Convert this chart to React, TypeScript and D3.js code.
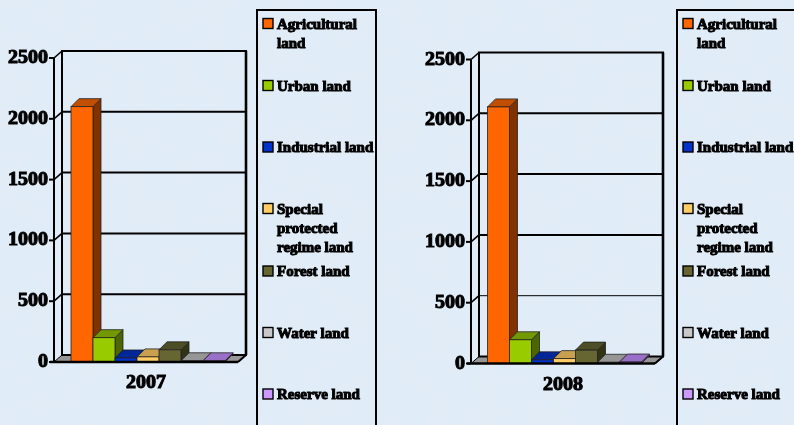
import React from "react";
import * as d3 from "d3";

const categories = ["Agricultural land", "Urban land", "Industrial land", "Special protected regime land", "Forest land", "Water land", "Reserve land"];
const values2007 = [2100, 200, 33, 42, 100, 10, 10];
const values2008 = [2110, 195, 30, 40, 110, 10, 12];
const legendLines = [["Agricultural", "land"], ["Urban land"], ["Industrial land"], ["Special", "protected", "regime land"], ["Forest land"], ["Water land"], ["Reserve land"]];
const frontColors = ["#ff6600", "#99cc00", "#0033cc", "#ffcc66", "#666633", "#c8c8c8", "#cc99ff"];
const topColors = ["#c25000", "#739900", "#002699", "#c8a050", "#4d4d26", "#969696", "#9970c8"];
const sideColors = ["#803300", "#4d6600", "#001a66", "#806633", "#333319", "#646464", "#664d80"];
const ticks = [0, 500, 1000, 1500, 2000, 2500];
const legendRowY = [23.5, 85.5, 147, 208.5, 271, 332.5, 394];

const serif = "'Liberation Serif', serif";

function Label({ x, y, children, anchor = "start", size = 15, width }: any) {
  return (
    <text x={x} y={y} textAnchor={anchor} fontFamily={serif} fontWeight="bold" fontSize={size} fill="#000" stroke="#000" strokeWidth={1}
      textLength={width} lengthAdjust={width ? "spacingAndGlyphs" : undefined}>{children}</text>
  );
}

function Chart({ ox, baseY, x0, values, year, legendX }: any) {
  const dx = 8, dy = 7, barDy = 8;
  const xFront = ox;
  const xRight = ox + 184;
  const y = d3.scaleLinear().domain([0, 2500]).range([baseY, baseY - 304]);
  const x = d3.scaleBand<number>().domain(d3.range(categories.length)).range([x0, x0 + 154]);
  const w = x.bandwidth();
  const floor = `M${xFront},${baseY}L${xFront + dx},${baseY - dy}L${xRight + dx},${baseY - dy}L${xRight},${baseY}Z`;
  return (
    <g>
      <path d={floor} fill="#969696" stroke="#000" strokeWidth={1} />
      <rect x={xFront + dx} y={y(2500) - dy} width={184} height={304} fill="none" stroke="#000" strokeWidth={2} />
      <line x1={xRight + dx} x2={xRight + dx} y1={y(2500) - dy} y2={baseY - dy} stroke="#000" strokeWidth={2.6} />
      {ticks.slice(1, 5).map((t) => (
        <g key={t} stroke="#000" strokeWidth={t === 500 && year === "2008" ? 1 : 2}>
          <line x1={xFront + dx} x2={xRight + dx} y1={y(t) - dy} y2={y(t) - dy} />
          <line x1={xFront} x2={xFront + dx} y1={y(t)} y2={y(t) - dy} strokeWidth={1.6} />
        </g>
      ))}
      <line x1={xFront} x2={xFront + dx} y1={y(2500)} y2={y(2500) - dy} stroke="#000" strokeWidth={1.6} />
      <line x1={xFront} x2={xFront} y1={y(2500)} y2={baseY} stroke="#000" strokeWidth={2} />
      {values.map((v: number, i: number) => {
        const l = x(i)!, r = l + w, t = y(v);
        return (
          <g key={i} stroke="#222" strokeWidth={0.8}>
            <path d={`M${r},${t}L${r + dx},${t - barDy}L${r + dx},${baseY - barDy}L${r},${baseY}Z`} fill={sideColors[i]} />
            <path d={`M${l},${t}L${l + dx},${t - barDy}L${r + dx},${t - barDy}L${r},${t}Z`} fill={topColors[i]} />
            <rect x={l} y={t} width={w} height={baseY - t} fill={frontColors[i]} />
          </g>
        );
      })}
      <line x1={xFront - 4} x2={xRight} y1={baseY} y2={baseY} stroke="#000" strokeWidth={2.4} />
      <line x1={xRight} x2={xRight + dx} y1={baseY} y2={baseY - dy} stroke="#000" strokeWidth={2} />
      {ticks.map((t) => (
        <g key={t}>
          <line x1={xFront - 5} x2={xFront} y1={y(t)} y2={y(t)} stroke="#000" strokeWidth={2} />
          <Label x={xFront - 6} y={y(t) + 5} anchor="end" size={18} width={String(t).length * 10}>{t}</Label>
        </g>
      ))}
      <Label x={(xFront + xRight) / 2} y={baseY + 26} anchor="middle" size={18} width={40}>{year}</Label>
      <rect x={legendX} y={10} width={119} height={440} fill="none" stroke="#000" strokeWidth={2} />
      {categories.map((c, i) => (
        <g key={c}>
          <rect x={legendX + 6} y={legendRowY[i] - 5} width={10} height={10} fill={frontColors[i]} stroke="#000" strokeWidth={1.4} />
          {legendLines[i].map((line, j) => (
            <Label key={line} x={legendX + 20} y={legendRowY[i] + 5 + j * 19}>{line}</Label>
          ))}
        </g>
      ))}
    </g>
  );
}

export default function App() {
  return (
    <svg width={794} height={425} viewBox="0 0 794 425" style={{ position: "fixed", left: 0, top: 0, display: "block" }}>
      <defs>
        <filter id="paper" x="0" y="0" width="100%" height="100%">
          <feTurbulence type="fractalNoise" baseFrequency="0.04" numOctaves={4} seed={7} />
          <feColorMatrix values="0 0 0 0 0.76  0 0 0 0 0.84  0 0 0 0 0.92  2.6 0 0 0 -1.05" />
        </filter>
        <filter id="soft" x="-2%" y="-2%" width="104%" height="104%">
          <feGaussianBlur stdDeviation="0.6" />
        </filter>
      </defs>
      <rect width={794} height={425} fill="#e0ecf8" />
      <rect width={794} height={425} filter="url(#paper)" />
      <g filter="url(#soft)">
        <Chart ox={54} baseY={362} x0={71} values={values2007} year="2007" legendX={257} />
        <Chart ox={471} baseY={363.5} x0={487.5} values={values2008} year="2008" legendX={677} />
      </g>
    </svg>
  );
}
